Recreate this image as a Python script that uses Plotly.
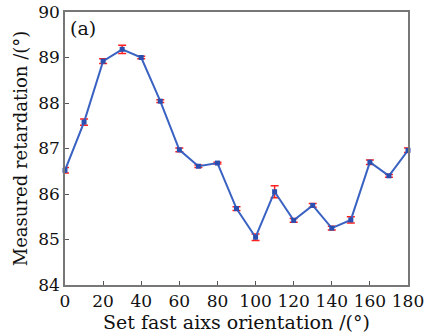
import plotly.graph_objects as go

orientation = [0, 10, 20, 30, 40, 50, 60, 70, 80, 90, 100, 110, 120, 130, 140, 150, 160, 170, 180]
retardation = [86.52, 87.58, 88.92, 89.18, 89.00, 88.04, 86.97, 86.61, 86.68, 85.68, 85.05, 86.05,
               85.42, 85.75, 85.25, 85.43, 86.70, 86.40, 86.96]
err = [0.06, 0.07, 0.05, 0.09, 0.03, 0.03, 0.04, 0.03, 0.02, 0.04, 0.07, 0.13, 0.04, 0.04, 0.04, 0.07, 0.05, 0.03, 0.05]

x_ticks = list(range(0, 181, 20))
y_ticks = [84, 85, 86, 87, 88, 89, 90]

font_family = "DejaVu Serif, Liberation Serif, serif"

fig = go.Figure()
fig.add_trace(go.Scatter(
    x=orientation, y=retardation,
    mode="lines+markers",
    line=dict(color="#3a62c2", width=2),
    marker=dict(color="#2a4fb0", size=5, symbol="square"),
    error_y=dict(type="data", array=err, visible=True, color="#ff2020", thickness=1.5, width=4),
    cliponaxis=False,
    showlegend=False,
))

fig.add_annotation(text="(a)", xref="paper", yref="paper", x=0.01, y=0.99,
                   xanchor="left", yanchor="top", showarrow=False,
                   font=dict(family=font_family, size=19, color="#111"))

fig.update_layout(
    template="none",
    width=424, height=333, autosize=False,
    margin=dict(l=65, r=16, t=12, b=48, pad=0),
    paper_bgcolor="white", plot_bgcolor="white",
    font=dict(family=font_family, color="#111"),
)
fig.update_xaxes(
    range=[0, 180], tickvals=x_ticks, ticktext=[str(v) for v in x_ticks],
    ticks="inside", ticklen=4, tickcolor="#555", showgrid=False, zeroline=False,
    showline=True, linecolor="#777", linewidth=1.5, mirror=True, automargin=False,
    ticklabeloverflow="allow",
    tickfont=dict(size=17), title=dict(text="Set fast aixs orientation /(°)", font=dict(size=19), standoff=0),
)
fig.update_yaxes(
    range=[84, 90], tickvals=y_ticks, ticktext=[str(v) for v in y_ticks],
    ticks="inside", ticklen=4, tickcolor="#555", showgrid=False, zeroline=False,
    showline=True, linecolor="#777", linewidth=1.5, mirror=True, automargin=False,
    ticklabeloverflow="allow",
    tickfont=dict(size=17), title=dict(text="Measured retardation /(°)", font=dict(size=18), standoff=6),
)

fig.write_html("out.html", config={"displayModeBar": False},
               post_script="document.body.style.margin='0';document.body.style.padding='0';")
